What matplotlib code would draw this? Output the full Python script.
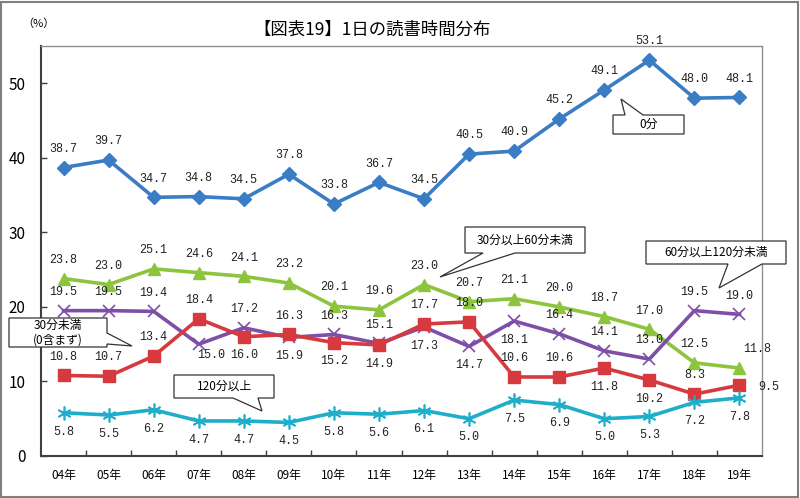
import matplotlib.pyplot as plt
from matplotlib.patches import Polygon, Rectangle

plt.rcParams['font.family'] = ['Noto Sans CJK JP', 'DejaVu Sans']

years = ['04年', '05年', '06年', '07年', '08年', '09年', '10年', '11年',
         '12年', '13年', '14年', '15年', '16年', '17年', '18年', '19年']
zero_min = [38.7, 39.7, 34.7, 34.8, 34.5, 37.8, 33.8, 36.7, 34.5, 40.5, 40.9, 45.2, 49.1, 53.1, 48.0, 48.1]
min30_60 = [23.8, 23.0, 25.1, 24.6, 24.1, 23.2, 20.1, 19.6, 23.0, 20.7, 21.1, 20.0, 18.7, 17.0, 12.5, 11.8]
min60_120 = [19.5, 19.5, 19.4, 15.0, 17.2, 15.9, 16.3, 15.1, 17.3, 14.7, 18.1, 16.4, 14.1, 13.0, 19.5, 19.0]
under30 = [10.8, 10.7, 13.4, 18.4, 16.0, 16.3, 15.2, 14.9, 17.7, 18.0, 10.6, 10.6, 11.8, 10.2, 8.3, 9.5]
over120 = [5.8, 5.5, 6.2, 4.7, 4.7, 4.5, 5.8, 5.6, 6.1, 5.0, 7.5, 6.9, 5.0, 5.3, 7.2, 7.8]

# label placement: a = above, b = below, r = right, u = upper right, s = below right
pos_zero = 'aaaaaaaaaaaaaaaa'
pos_30_60 = 'aaaaaaaaaaaaaaau'
pos_60_120 = 'aaasabaabbbaaaaa'
pos_under30 = 'aaaababbaaaabbar'
pos_120 = 'bbbbbbbbbbbbbbbb'

offsets = {'a': (0, 13.5), 'b': (0, -13.5), 'r': (21, -1), 'u': (13, 14), 's': (9, -8)}

W, H = 800, 498
fig = plt.figure(figsize=(8, 4.98), dpi=100)
ax = fig.add_axes([41 / W, 1 - 456 / H, (762 - 41) / W, (456 - 46) / H])

x = list(range(len(years)))
series = [
    (zero_min, '#3B7DC4', 'D', 7, pos_zero),
    (min30_60, '#8CC43E', '^', 8, pos_30_60),
    (min60_120, '#7E4FA6', 'x', 9, pos_60_120),
    (under30, '#D63A3E', 's', 8, pos_under30),
    (over120, '#1FAEC9', (6, 2, 0), 10, pos_120),
]
for vals, col, mk, ms, pos in series:
    if mk in ('x', (6, 2, 0)):
        ax.plot(x, vals, color=col, lw=2.6, marker=mk, ms=ms, mew=1.2, zorder=3)
    else:
        ax.plot(x, vals, color=col, lw=2.6, marker=mk, ms=ms, zorder=3)
    for i, v in enumerate(vals):
        dx, dy = offsets[pos[i]]
        ax.annotate(f'{v:.1f}', (i, v), xytext=(dx, dy), textcoords='offset points',
                    ha='center', va='center', fontsize=8.5, family='Liberation Mono',
                    color='#222222', zorder=5)

ax.set_xlim(-0.5, len(years) - 0.5)
ax.set_ylim(0, 55)
ax.set_yticks([0, 10, 20, 30, 40, 50])
ax.set_xticks([i + 0.5 for i in range(len(years) - 1)], minor=False)
ax.set_xticklabels([])
ax.set_xticks(x, minor=True)
ax.set_xticklabels(years, minor=True, fontsize=8.5)
ax.tick_params(axis='x', which='minor', length=0, pad=9)
ax.tick_params(axis='x', which='major', direction='in', length=4, width=1, color='#404040')
ax.tick_params(axis='y', direction='in', length=4, width=1, labelsize=11, pad=11, color='#404040')
for s in ('left', 'bottom'):
    ax.spines[s].set_color('#404040')
    ax.spines[s].set_linewidth(1.5)
for s in ('top', 'right'):
    ax.spines[s].set_color('#909090')
    ax.spines[s].set_linewidth(1)

fig.text(372 / W, 1 - 30 / H, '【図表19】1日の読書時間分布', ha='center', va='center', fontsize=12.5)
fig.text(38 / W, 1 - 24 / H, '（%）', ha='center', va='center', fontsize=8)


def callout(text, x0, y0, x1, y1, edge, a, b, tip):
    if edge == 'right':
        pts = [(x0, y0), (x1, y0), (x1, a), tip, (x1, b), (x1, y1), (x0, y1)]
    elif edge == 'bottom':
        pts = [(x0, y0), (x1, y0), (x1, y1), (b, y1), tip, (a, y1), (x0, y1)]
    else:
        pts = [(x0, y0), (a, y0), tip, (b, y0), (x1, y0), (x1, y1), (x0, y1)]
    pts = [(px / W, 1 - py / H) for px, py in pts]
    fig.add_artist(Polygon(pts, closed=True, transform=fig.transFigure, facecolor='white',
                           edgecolor='#333333', lw=0.9, zorder=10))
    fig.text((x0 + x1) / 2 / W, 1 - (y0 + y1) / 2 / H, text, ha='center', va='center',
             fontsize=8.5, zorder=11, linespacing=1.2)


callout('30分未満\n(0含まず)', 9, 318, 107, 347, 'right', 333, 344, (132, 346))
callout('120分以上', 174, 375, 274, 398, 'bottom', 233, 258, (262, 411))
callout('30分以上60分未満', 465, 227, 585, 253, 'bottom', 483, 515, (440, 277))
callout('60分以上120分未満', 646, 241, 786, 264, 'bottom', 728, 762, (719, 288))
callout('0分', 613, 115, 684, 134, 'top', 625, 643, (621, 99))

fig.add_artist(Rectangle((1 / W, 1 / H), 1 - 3 / W, 1 - 3 / H, transform=fig.transFigure,
                         fill=False, edgecolor='#7f7f7f', lw=1.5))

fig.savefig('out.png', dpi=100)
